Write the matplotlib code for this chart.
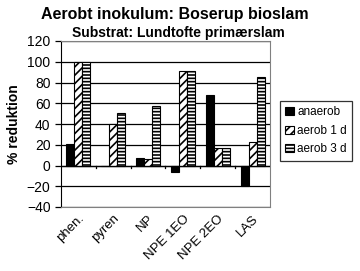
import matplotlib.pyplot as plt
import numpy as np

plt.rcParams['font.family'] = ['Liberation Sans', 'DejaVu Sans']
plt.rcParams['hatch.linewidth'] = 1.2

categories = ['phen.', 'pyren', 'NP', 'NPE 1EO', 'NPE 2EO', 'LAS']
anaerob = [21, 0, 7, -6, 68, -20]
aerob_1d = [100, 40, 6, 91, 17, 23]
aerob_3d = [100, 51, 57, 91, 17, 85]

fig = plt.figure(figsize=(3.6, 2.71), dpi=100)
ax = fig.add_axes([61/360, 1 - 207/271, 209/360, 166/271])

x = np.arange(len(categories))
w = 0.23
ax.bar(x - w, anaerob, w, color='black', edgecolor='black', linewidth=0.8, label='anaerob', zorder=3)
ax.bar(x, aerob_1d, w, color='white', edgecolor='black', hatch='////', linewidth=0.8, label='aerob 1 d', zorder=3)
ax.bar(x + w, aerob_3d, w, color='white', edgecolor='black', hatch='-----', linewidth=0.8, label='aerob 3 d', zorder=3)

ax.set_xlim(-0.5, len(categories) - 0.5)
ax.set_ylim(-40, 120)
ax.set_yticks(range(-40, 121, 20))
ax.yaxis.grid(True, color='black', linewidth=0.9, zorder=0)
ax.axhline(0, color='black', linewidth=0.9, zorder=4)

# category boundary ticks on the zero line
for b in np.arange(0.5, len(categories) - 0.5, 1):
    ax.plot([b, b], [0, -2.5], color='black', linewidth=0.9, zorder=4, clip_on=False)

ax.set_xticks(x)
ax.set_xticklabels(categories, rotation=45, ha='right', rotation_mode='anchor', fontsize=9.5)
ax.tick_params(axis='x', length=0, pad=4)
ax.tick_params(axis='y', labelsize=10, length=4, direction='out', width=0.9)

for s in ['top', 'right', 'bottom']:
    ax.spines[s].set_color('#808080')
ax.spines['left'].set_color('black')

ax.set_ylabel('% reduktion', fontsize=10, fontweight='bold', labelpad=4)

fig.text(175/360, 1 - 14/271, 'Aerobt inokulum: Boserup bioslam',
         ha='center', va='center', fontsize=11.5, fontweight='bold')
fig.text(178/360, 1 - 33/271, 'Substrat: Lundtofte primærslam',
         ha='center', va='center', fontsize=10, fontweight='bold')

leg = fig.legend(loc='upper left', bbox_to_anchor=(280/360, 1 - 101/271), fontsize=8.5,
                 frameon=True, fancybox=False, edgecolor='black', handlelength=0.7,
                 handleheight=0.7, handletextpad=0.3, labelspacing=0.55, borderpad=0.45,
                 borderaxespad=0)
leg.get_frame().set_linewidth(0.9)

fig.savefig('out.png', dpi=100)
